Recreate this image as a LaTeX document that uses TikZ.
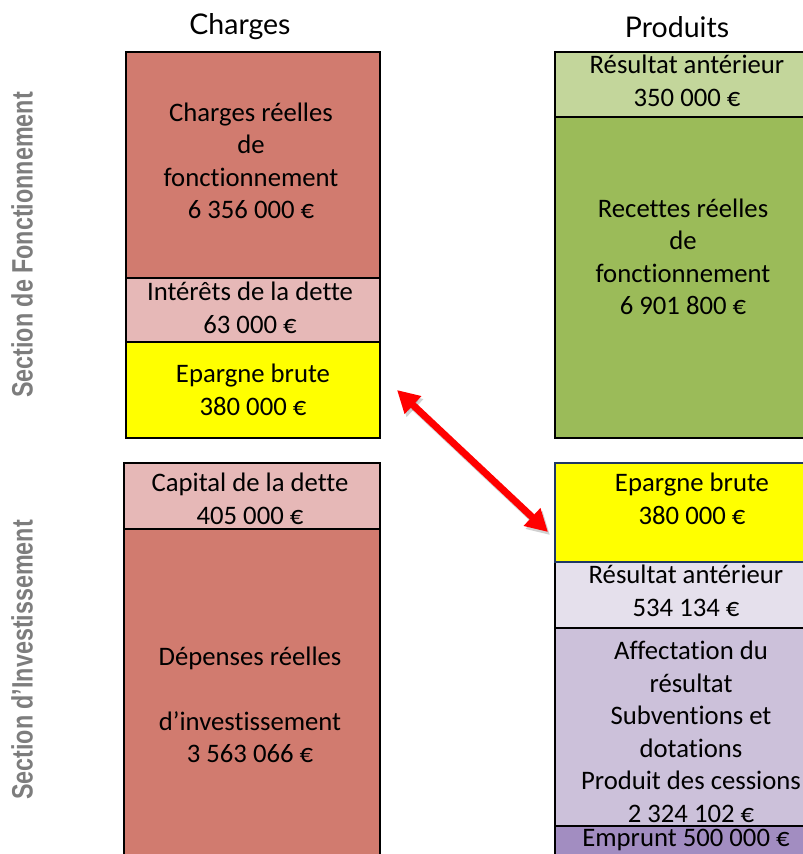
\documentclass[tikz,border=0pt]{standalone}
\usepackage{fontspec}
\setmainfont[Ligatures=NoCommon]{Carlito}
\newfontfamily\headfont{Lato}
\newfontfamily\sidefont[FakeStretch=0.79]{Liberation Sans}
\usetikzlibrary{arrows.meta}
\definecolor{salmon}{RGB}{209,123,111}
\definecolor{pinklt}{RGB}{230,184,183}
\definecolor{yel}{RGB}{255,255,0}
\definecolor{greenlt}{RGB}{195,214,155}
\definecolor{greenmd}{RGB}{155,187,89}
\definecolor{lavlt}{RGB}{229,224,236}
\definecolor{lavmd}{RGB}{204,193,218}
\definecolor{lavdk}{RGB}{162,141,193}
\definecolor{navy}{RGB}{31,56,100}
\definecolor{sidegray}{RGB}{125,125,125}
\begin{document}
\begin{tikzpicture}[x=1pt,y=-1pt,
  cell/.style={draw=black, line width=2.2pt, anchor=north west, inner sep=0pt, outer sep=0pt},
  txt/.style={align=center, font=\fontsize{26.7}{32.5}\selectfont, inner sep=0pt},
  head/.style={font=\headfont\fontsize{28.5}{32}\selectfont, inner sep=0pt},
  side/.style={font=\sidefont\bfseries\fontsize{29.5}{32}\selectfont, text=sidegray, inner sep=0pt, rotate=90},
  bigarrow/.style={line width=7pt, {Triangle[length=22pt,width=23pt]}-{Triangle[length=22pt,width=23pt]}}]
\useasboundingbox (0,0) rectangle (803,854);
\clip (0,0) rectangle (803,854);

% headers
\node[head] (hc) at (240,27) {Charges};
\node[head] (hp) at (677,27) {Produits};

% side labels
\node[side] (sf) at (22,245) {Section de Fonctionnement};
\node[side] (si) at (22,660) {Section d’Investissement};

% left, fonctionnement
\node[cell, fill=salmon, minimum width=254pt, minimum height=226pt] (crf) at (126,52) {};
\node[cell, fill=pinklt, minimum width=254pt, minimum height=64pt] (int) at (126,278) {};
\node[cell, fill=yel, minimum width=254pt, minimum height=96pt] (epl) at (126,342) {};
\node[txt] (tcrf) at (251,161) {Charges réelles\\de\\fonctionnement\\6 356 000 €};
\node[txt] (tint) at (250,308) {Intérêts de la dette\\63 000 €};
\node[txt] (tepl) at (253,390) {Epargne brute\\380 000 €};

% left, investissement
\node[cell, fill=pinklt, minimum width=256pt, minimum height=66pt] (cap) at (124,463) {};
\node[cell, fill=salmon, minimum width=256pt, minimum height=340pt] (dep) at (124,529) {};
\node[txt] (tcap) at (250,499) {Capital de la dette\\405 000 €};
\node[txt] (tdep) at (250,705) {Dépenses réelles\\[32.5pt]d’investissement\\3 563 066 €};

% right, fonctionnement
\node[cell, fill=greenlt, minimum width=275pt, minimum height=65pt] (ra1) at (555,52) {};
\node[cell, fill=greenmd, minimum width=275pt, minimum height=321pt] (rec) at (555,117) {};
\node[txt] (tra1) at (687,81) {Résultat antérieur\\350 000 €};
\node[txt] (trec) at (683,257) {Recettes réelles\\de\\fonctionnement\\6 901 800 €};

% right, investissement
\node[cell, fill=lavlt, minimum width=275pt, minimum height=66pt] (ra2) at (555,562) {};
\node[cell, fill=lavmd, minimum width=275pt, minimum height=198pt] (aff) at (555,628) {};
\node[cell, fill=lavdk, minimum width=275pt, minimum height=40pt] (emp) at (555,826) {};
\node[cell, draw=navy, fill=yel, minimum width=275pt, minimum height=99pt] (epr) at (555,463) {};
\node[txt] (tepr) at (692,499) {Epargne brute\\380 000 €};
\node[txt] (tra2) at (686,591) {Résultat antérieur\\534 134 €};
\node[txt] (taff) at (691,732) {Affectation du\\résultat\\Subventions et\\dotations\\Produit des cessions\\2 324 102 €};
\node[txt] (temp) at (686,840) {Emprunt 500 000 €};

% arrow between the two "Epargne brute"
\coordinate (a1) at (397,390);
\coordinate (a2) at (548,532);
\draw[bigarrow, black, opacity=0.18] ([shift={(2,3)}]a1) -- ([shift={(2,3)}]a2);
\draw[bigarrow, red] (a1) -- (a2);
\end{tikzpicture}
\end{document}
